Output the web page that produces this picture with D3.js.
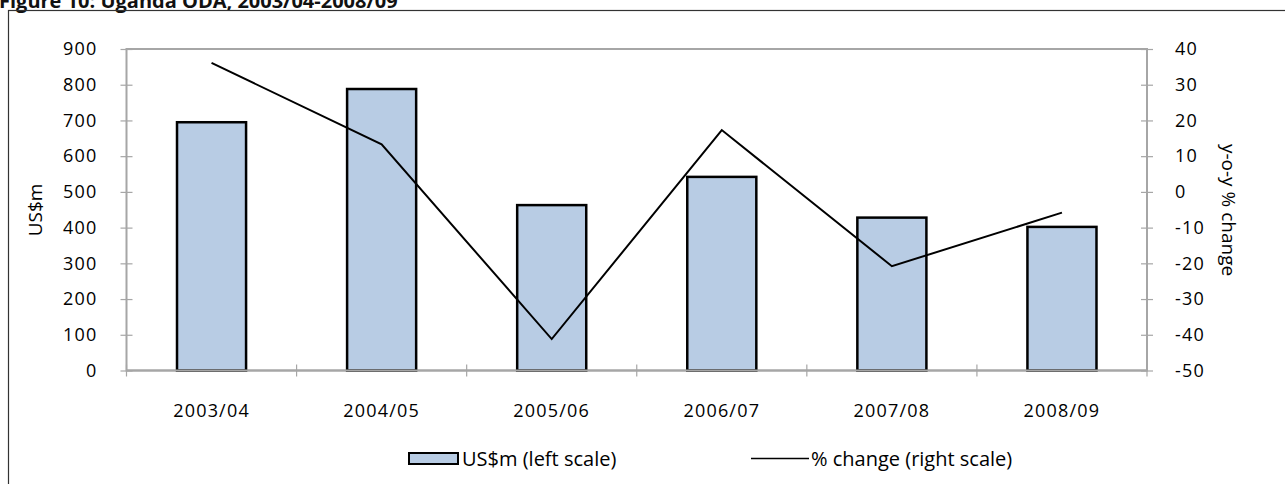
<!DOCTYPE html>
<html>
<head>
<meta charset="utf-8">
<script src="https://cdn.jsdelivr.net/npm/d3@7"></script>
<style>
  body { margin: 0; background: #fff; }
  svg { display: block; }
</style>
</head>
<body>
<svg id="chart"></svg>
<script>
const years = ["2003/04", "2004/05", "2005/06", "2006/07", "2007/08", "2008/09"]
const odaValues = [695, 788, 463, 542, 428, 402]
const pctChange = [36.1, 13.3, -41.2, 17.3, -20.8, -5.8]
const leftTicks = [0, 100, 200, 300, 400, 500, 600, 700, 800, 900]
const rightTicks = [-50, -40, -30, -20, -10, 0, 10, 20, 30, 40]

const W = 1285, H = 484
const plot = {left: 126.5, right: 1147, top: 49, bottom: 370.5}
const font = "'Open Sans', sans-serif"
const barFill = "#b8cce4"
const axisGrey = "#a6a6a6"

const svg = d3.select("#chart").attr("width", W).attr("height", H)

// title, cut off at top like the source
svg.append("text")
    .attr("x", -1).attr("y", 8)
    .style("font", "bold 20px 'Open Sans', sans-serif")
    .attr("fill", "#111")
    .text("Figure 10: Uganda ODA, 2003/04-2008/09")

// outer frame (runs off the right/bottom edge)
svg.append("rect")
    .attr("x", 8.5).attr("y", 10.5)
    .attr("width", W + 20).attr("height", H + 20)
    .attr("fill", "none").attr("stroke", "#333").attr("stroke-width", 1.2)

const x = d3.scaleBand().domain(years)
    .range([plot.left, plot.right])
    .paddingInner(0.594).paddingOuter(0.297)
const yL = d3.scaleLinear().domain([0, 900]).range([plot.bottom, plot.top])
const yR = d3.scaleLinear().domain([-50, 40]).range([plot.bottom, plot.top])

// plot area frame
svg.append("rect")
    .attr("x", plot.left).attr("y", plot.top)
    .attr("width", plot.right - plot.left).attr("height", plot.bottom - plot.top)
    .attr("fill", "none").attr("stroke", axisGrey).attr("stroke-width", 2)

const tickFont = `18px ${font}`

// left axis
const gL = svg.append("g").attr("transform", `translate(${plot.left},0)`)
    .call(d3.axisLeft(yL).tickValues(leftTicks).tickFormat(d => String(d)).tickSize(6).tickPadding(23))
gL.select(".domain").remove()
gL.selectAll(".tick line").attr("x1", 6).attr("x2", -6).attr("stroke", axisGrey).attr("stroke-width", 1.2)
gL.selectAll(".tick text").style("font", tickFont).attr("fill", "#000").attr("letter-spacing", "1.2px")

// right axis
const gR = svg.append("g").attr("transform", `translate(${plot.right},0)`)
    .call(d3.axisRight(yR).tickValues(rightTicks).tickFormat(d => String(d)).tickSize(6).tickPadding(22))
gR.select(".domain").remove()
gR.selectAll(".tick line").attr("x1", -6).attr("x2", 6).attr("stroke", axisGrey).attr("stroke-width", 1.2)
gR.selectAll(".tick text").style("font", tickFont).attr("fill", "#000").attr("letter-spacing", "1.2px")

// bottom ticks at category boundaries
const bounds = d3.range(years.length + 1).map(i => plot.left + i * x.step())
svg.selectAll("line.xtick")
    .data(bounds).join("line")
    .attr("class", "xtick")
    .attr("x1", d => d).attr("x2", d => d)
    .attr("y1", plot.bottom - 6).attr("y2", plot.bottom + 6)
    .attr("stroke", axisGrey).attr("stroke-width", 1.2)

svg.selectAll("text.xlab")
    .data(years).join("text")
    .attr("class", "xlab")
    .attr("x", d => x(d) + x.bandwidth() / 2)
    .attr("y", 417)
    .attr("text-anchor", "middle")
    .style("font", tickFont)
    .attr("letter-spacing", "1.2px")
    .text(d => d)

// bars
svg.selectAll("rect.bar")
    .data(years).join("rect")
    .attr("class", "bar")
    .attr("x", d => x(d))
    .attr("y", (d, i) => yL(odaValues[i]))
    .attr("width", x.bandwidth())
    .attr("height", (d, i) => yL(0) - yL(odaValues[i]))
    .attr("fill", barFill)
    .attr("stroke", "#000").attr("stroke-width", 2.5)

// redraw bottom axis over bar bases
svg.append("line")
    .attr("x1", plot.left).attr("x2", plot.right)
    .attr("y1", plot.bottom).attr("y2", plot.bottom)
    .attr("stroke", axisGrey).attr("stroke-width", 2)

// % change line
const line = d3.line()
    .x((d, i) => x(years[i]) + x.bandwidth() / 2)
    .y(d => yR(d))
svg.append("path")
    .datum(pctChange)
    .attr("d", line)
    .attr("fill", "none").attr("stroke", "#000").attr("stroke-width", 2)

// axis titles
svg.append("text")
    .attr("transform", "translate(42,210) rotate(-90)")
    .attr("text-anchor", "middle")
    .style("font", `19px ${font}`)
    .text("US$m")
svg.append("text")
    .attr("transform", "translate(1222,210) rotate(90)")
    .attr("text-anchor", "middle")
    .style("font", `19px ${font}`)
    .text("y-o-y % change")

// legend
const legendFont = `20px ${font}`
const lg = svg.append("g")
lg.append("rect")
    .attr("x", 409).attr("y", 453).attr("width", 49).attr("height", 11)
    .attr("fill", barFill).attr("stroke", "#000").attr("stroke-width", 2)
lg.append("text")
    .attr("x", 462).attr("y", 466)
    .style("font", legendFont)
    .text("US$m (left scale)")
lg.append("line")
    .attr("x1", 751).attr("x2", 809).attr("y1", 458.5).attr("y2", 458.5)
    .attr("stroke", "#000").attr("stroke-width", 1.5)
lg.append("text")
    .attr("x", 811).attr("y", 466)
    .style("font", legendFont)
    .text("% change (right scale)")
</script>
</body>
</html>
